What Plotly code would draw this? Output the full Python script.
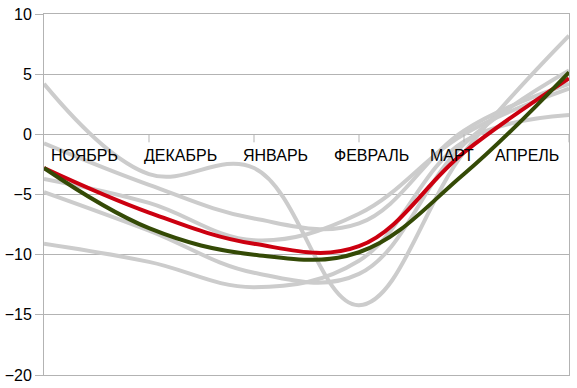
import plotly.graph_objects as go

# ---- data ----
months = ["НОЯБРЬ", "ДЕКАБРЬ", "ЯНВАРЬ", "ФЕВРАЛЬ", "МАРТ", "АПРЕЛЬ"]
gray_a = [4.2, -3.3, -2.8, -14.2, -1.5, 8.2]
gray_b = [-0.75, -4.2, -7.0, -7.4, 0.3, 4.2]
gray_c = [-3.7, -5.7, -8.8, -6.6, 0.0, 3.8]
gray_d = [-4.8, -8.0, -11.5, -11.6, -0.8, 5.3]
gray_e = [-9.1, -10.6, -12.7, -10.5, -0.6, 1.6]
red_series = [-2.8, -6.5, -9.1, -9.3, -1.5, 4.65]
green_series = [-2.8, -7.8, -10.0, -9.8, -3.3, 5.15]
y_ticks = [-20, -15, -10, -5, 0, 5, 10]

# ---- style ----
GRID = "#b3b3b3"
GRAY = "#cccccc"
RED = "#cc0010"
GREEN = "#344a06"
FONT = "Liberation Sans, Arial, sans-serif"
label_px = [84.5, 180, 275, 371, 452, 527]   # label centers in pixels
plot_left, plot_right = 44, 569

xs = list(range(len(months)))
fig = go.Figure()
for s in [gray_a, gray_b, gray_c, gray_d, gray_e]:
    fig.add_trace(go.Scatter(x=xs, y=s, mode="lines",
                             line=dict(color=GRAY, width=4, shape="spline", smoothing=1.1),
                             hoverinfo="skip"))
fig.add_trace(go.Scatter(x=xs, y=red_series, mode="lines",
                         line=dict(color=RED, width=4, shape="spline", smoothing=1.1)))
fig.add_trace(go.Scatter(x=xs, y=green_series, mode="lines",
                         line=dict(color=GREEN, width=4, shape="spline", smoothing=1.1)))

n = len(months) - 1
step = (plot_right - plot_left) / n
annotations = []
for lab, px in zip(months, label_px):
    annotations.append(dict(x=(px - plot_left) / step, y=0, xref="x", yref="y",
                            text=lab, showarrow=False, yshift=-21, yanchor="middle",
                            xanchor="center", font=dict(family=FONT, size=16, color="black")))
shapes = []
for i in range(1, len(months)):
    shapes.append(dict(type="line", xref="x", yref="y", x0=i, x1=i,
                       ysizemode="pixel", yanchor=0, y0=0, y1=-8,
                       line=dict(color=GRID, width=1)))

fig.update_layout(
    width=577, height=388,
    margin=dict(l=44, r=8, t=14, b=13, autoexpand=False),
    paper_bgcolor="white", plot_bgcolor="white",
    showlegend=False,
    annotations=annotations, shapes=shapes,
    font=dict(family=FONT, size=16, color="black"),
)
fig.update_xaxes(range=[0, n], showgrid=False, zeroline=False, showticklabels=False,
                 showline=True, linecolor=GRID, linewidth=1, mirror=True, ticks="")
fig.update_yaxes(range=[-20, 10], tickvals=y_ticks, showgrid=True, gridcolor=GRID, gridwidth=1,
                 zeroline=True, zerolinecolor=GRID, zerolinewidth=1,
                 showline=True, linecolor=GRID, linewidth=1, mirror=True,
                 ticks="outside", ticklen=8, tickcolor=GRID,
                 tickfont=dict(family=FONT, size=16, color="black"))

fig.write_html("out.html", config={"displayModeBar": False},
               post_script="document.body.style.margin='0';document.body.style.padding='0';")
